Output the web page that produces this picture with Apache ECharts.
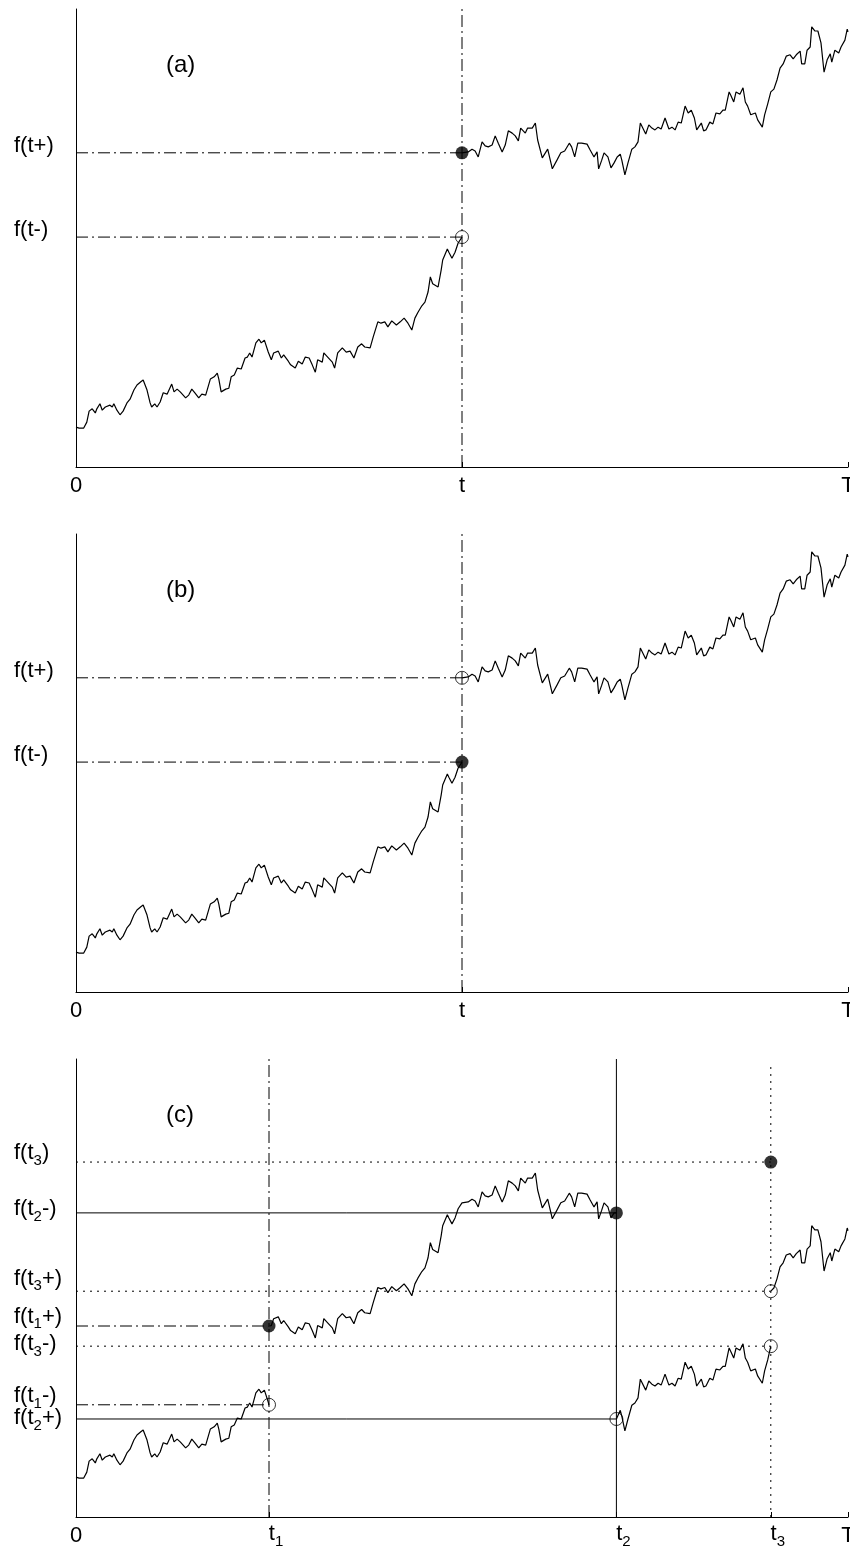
<!DOCTYPE html>
<html>
<head>
<meta charset="utf-8">
<script src="https://cdn.jsdelivr.net/npm/echarts@6/dist/echarts.min.js"></script>
<style>
  html, body { margin: 0; padding: 0; background: #fff; }
  #chart { width: 850px; height: 1547px; }
</style>
</head>
<body>
<div id="chart"></div>
<script>
// time axis runs 0..100 (T = 100), values are in % of panel height
const tJump = 50, t1 = 25, t2 = 70, t3 = 90

// path of panels (a) and (b), before and after the jump at t
const leftPath = [[0,8.7],[0.4,8.5],[0.6,8.7],[1.0,8.5],[1.4,9.8],[1.7,12.2],[2.1,12.7],[2.5,11.8],[2.7,12.7],[3.1,13.8],[3.4,12.4],[3.8,13.1],[4.0,12.7],[4.4,13.5],[4.7,13.1],[4.9,13.8],[5.3,12.4],[5.7,11.4],[6.1,12.2],[6.6,14.0],[7.0,14.8],[7.5,16.8],[7.9,17.9],[8.4,18.6],[8.7,19.0],[9.2,16.8],[9.6,14.0],[9.8,13.1],[10.2,13.8],[10.5,13.1],[10.9,14.2],[11.3,16.2],[11.8,15.9],[12.4,18.1],[12.7,16.4],[13.1,17.0],[13.5,16.4],[13.7,16.8],[14.2,15.1],[14.6,15.7],[15.0,17.0],[15.4,16.2],[15.9,15.1],[16.3,15.9],[16.8,15.7],[17.4,19.2],[17.9,19.7],[18.3,20.5],[18.5,19.2],[18.8,16.4],[19.4,17.0],[19.8,17.2],[20.1,19.7],[20.5,20.1],[20.9,21.6],[21.4,21.4],[21.9,23.8],[22.2,24.0],[22.5,24.9],[22.8,24.0],[23.3,27.1],[23.7,27.9],[24.0,27.1],[24.4,27.7],[24.9,25.1],[25.3,23.4],[25.6,24.9],[26.2,25.3],[26.6,23.8],[26.9,24.5],[27.5,23.1],[27.8,22.3],[28.4,21.6],[28.8,23.1],[29.3,22.5],[29.7,24.0],[30.2,23.8],[30.6,22.3],[31.0,20.7],[31.3,23.4],[31.9,22.9],[32.1,24.9],[32.6,24.0],[33.2,22.9],[33.5,21.6],[33.9,24.9],[34.5,26.0],[35.0,25.1],[35.5,25.3],[36.0,23.8],[36.5,26.2],[37.0,26.9],[37.4,26.2],[38.1,26.0],[38.5,28.4],[39.1,31.7],[39.5,31.4],[40.0,31.7],[40.4,30.6],[40.9,31.9],[41.5,31.0],[42.0,31.7],[42.5,32.5],[43.0,31.4],[43.5,29.9],[43.9,32.5],[44.3,33.8],[44.8,35.2],[45.2,36.0],[45.6,38.2],[45.9,41.5],[46.2,40.0],[46.9,39.3],[47.3,43.0],[47.5,45.2],[48.1,47.6],[48.3,46.9],[48.7,45.6],[49.1,46.9],[49.5,48.9],[50.0,50.2]]
const rightPath = [[50.0,68.6],[50.8,68.8],[51.3,69.4],[51.7,69.0],[52.1,67.7],[52.6,71.0],[53.0,70.1],[53.4,69.9],[53.9,70.3],[54.3,72.3],[54.7,70.7],[55.2,68.8],[55.6,70.3],[56.0,73.4],[56.5,72.9],[56.9,72.3],[57.3,71.2],[57.6,74.0],[58.2,72.9],[58.5,74.0],[59.1,74.0],[59.5,75.1],[59.8,71.4],[60.4,67.5],[60.8,68.6],[61.1,69.4],[61.7,65.1],[62.3,67.0],[62.8,68.6],[63.3,69.0],[63.9,70.7],[64.2,69.9],[64.6,67.7],[65.0,70.7],[65.5,70.7],[66.2,70.5],[66.6,69.2],[67.1,67.7],[67.5,68.8],[67.7,65.1],[68.1,67.0],[68.4,68.6],[68.9,67.7],[69.3,65.3],[69.7,66.4],[70.1,67.7],[70.5,68.3],[70.7,67.0],[71.1,63.8],[71.5,66.4],[72.0,69.4],[72.4,69.9],[72.8,71.0],[73.1,75.1],[73.3,75.3],[73.8,72.7],[74.2,74.7],[74.6,74.0],[75.0,73.6],[75.4,74.2],[75.8,73.8],[76.3,76.2],[76.8,73.8],[77.2,74.2],[77.6,73.6],[78.0,75.3],[78.4,75.1],[78.9,78.8],[79.3,77.3],[79.7,77.9],[80.1,76.2],[80.4,73.6],[81.0,75.1],[81.3,73.4],[81.6,73.6],[82.1,75.3],[82.5,74.9],[82.9,77.3],[83.4,77.1],[83.8,77.9],[84.1,77.9],[84.6,81.9],[84.8,81.2],[85.2,79.7],[85.5,81.9],[86.0,81.4],[86.4,82.8],[86.7,79.7],[87.0,78.8],[87.4,76.9],[88.0,77.3],[88.3,75.8],[88.9,74.2],[89.2,76.9],[89.6,79.3],[90.0,81.9],[90.4,82.5],[90.8,84.5],[91.2,87.1],[91.6,88.0],[92.0,89.7],[92.5,90.0],[92.9,89.1],[93.3,90.0],[93.8,90.8],[94.0,88.0],[94.4,88.0],[94.7,91.0],[95.1,91.7],[95.3,96.1],[95.7,95.2],[96.1,95.2],[96.5,92.6],[96.9,86.2],[97.3,88.9],[97.7,90.2],[97.9,88.4],[98.3,91.0],[98.8,90.4],[99.1,91.7],[99.6,93.2],[99.9,95.6],[100,95.0]]
const fTplus = 68.6, fTminus = 50.2

// panel (c): jumps at t1, t2, t3
const fT1minus = 24.5, fT1plus = 41.7
const fT2minus = 66.4, fT2plus = 21.4
const fT3 = 77.5, fT3plus = 49.3, fT3minus = 37.3
const cPath2 = [[25,41.7],[25.3,41.8],[25.6,43.3],[26.2,43.7],[26.6,42.2],[26.9,42.9],[27.5,41.5],[27.8,40.7],[28.4,40.0],[28.8,41.5],[29.3,40.9],[29.7,42.4],[30.2,42.2],[30.6,40.7],[31.0,39.1],[31.3,41.8],[31.9,41.3],[32.1,43.3],[32.6,42.4],[33.2,41.3],[33.5,40.0],[33.9,43.3],[34.5,44.4],[35.0,43.5],[35.5,43.7],[36.0,42.2],[36.5,44.6],[37.0,45.3],[37.4,44.6],[38.1,44.4],[38.5,46.8],[39.1,50.1],[39.5,49.8],[40.0,50.1],[40.4,49.0],[40.9,50.3],[41.5,49.4],[42.0,50.1],[42.5,50.9],[43.0,49.8],[43.5,48.3],[43.9,50.9],[44.3,52.2],[44.8,53.6],[45.2,54.4],[45.6,56.6],[45.9,59.9],[46.2,58.4],[46.9,57.7],[47.3,61.4],[47.5,63.6],[48.1,66.0],[48.3,65.3],[48.7,64.0],[49.1,65.3],[49.5,67.3],[50.0,68.6],[50.8,68.8],[51.3,69.4],[51.7,69.0],[52.1,67.7],[52.6,71.0],[53.0,70.1],[53.4,69.9],[53.9,70.3],[54.3,72.3],[54.7,70.7],[55.2,68.8],[55.6,70.3],[56.0,73.4],[56.5,72.9],[56.9,72.3],[57.3,71.2],[57.6,74.0],[58.2,72.9],[58.5,74.0],[59.1,74.0],[59.5,75.1],[59.8,71.4],[60.4,67.5],[60.8,68.6],[61.1,69.4],[61.7,65.1],[62.3,67.0],[62.8,68.6],[63.3,69.0],[63.9,70.7],[64.2,69.9],[64.6,67.7],[65.0,70.7],[65.5,70.7],[66.2,70.5],[66.6,69.2],[67.1,67.7],[67.5,68.8],[67.7,65.1],[68.1,67.0],[68.4,68.6],[68.9,67.7],[69.3,65.3],[69.7,66.4],[70,66.4]]
const cPath3 = [[70,21.4],[70.5,23.3],[70.7,22.0],[71.1,18.8],[71.5,21.4],[72.0,24.4],[72.4,24.9],[72.8,26.0],[73.1,30.1],[73.3,30.3],[73.8,27.7],[74.2,29.7],[74.6,29.0],[75.0,28.6],[75.4,29.2],[75.8,28.8],[76.3,31.2],[76.8,28.8],[77.2,29.2],[77.6,28.6],[78.0,30.3],[78.4,30.1],[78.9,33.8],[79.3,32.3],[79.7,32.9],[80.1,31.2],[80.4,28.6],[81.0,30.1],[81.3,28.4],[81.6,28.6],[82.1,30.3],[82.5,29.9],[82.9,32.3],[83.4,32.1],[83.8,32.9],[84.1,32.9],[84.6,36.9],[84.8,36.2],[85.2,34.7],[85.5,36.9],[86.0,36.4],[86.4,37.8],[86.7,34.7],[87.0,33.8],[87.4,31.9],[88.0,32.3],[88.3,30.8],[88.9,29.2],[89.2,31.9],[89.6,34.3],[90,37.3]]
const cPath4 = [[90,49.3],[90.4,50.0],[90.8,52.0],[91.2,54.6],[91.6,55.5],[92.0,57.2],[92.5,57.5],[92.9,56.6],[93.3,57.5],[93.8,58.3],[94.0,55.5],[94.4,55.5],[94.7,58.5],[95.1,59.2],[95.3,63.6],[95.7,62.7],[96.1,62.7],[96.5,60.1],[96.9,53.7],[97.3,56.4],[97.7,57.7],[97.9,55.9],[98.3,58.5],[98.8,57.9],[99.1,59.2],[99.6,60.7],[99.9,63.1],[100,62.5]]
const cPath1 = leftPath.filter(p => p[0] < t1).concat([[t1, fT1minus]])

// tick labels
const xTicksAB = [0, tJump, 100]
const xLabelsAB = ['0', 't', 'T']
const xTicksC = [0, t1, t2, t3, 100]
const xLabelsC = ['0', '{tm|t}{s|1}', '{tm|t}{s|2}', '{tm|t}{s|3}', 'T']
const yLabelPosAB = [70.0, 51.7]
const yLabelsAB = ['f(t+)', 'f(t-)']
// the labels of (c) sit close together, so they are split over two axes
const yLabelPosC = [79.5, 67.2, 52.0, 43.7, 37.8, 21.6]
const yLabelsC = ['{m|f(t}{s|3}{m|)}', '{m|f(t}{s|2}{m|-)}', '{m|f(t}{s|3}{m|+)}', '{m|f(t}{s|1}{m|+)}', '{m|f(t}{s|3}{m|-)}', '{m|f(t}{s|2}{m|+)}']
const yLabelPosC2 = [26.4]
const yLabelsC2 = ['{m|f(t}{s|1}{m|-)}']

const FONT = '"Liberation Sans", Arial, sans-serif'
const FS = 22
const DASHDOT = [12, 4, 2, 4]
const DOTTED = [2, 5]
const RICH = {
  m: { fontSize: FS, fontFamily: FONT, color: '#000', lineHeight: 18 },
  tm: { fontSize: FS, fontFamily: FONT, color: '#000', lineHeight: 18, padding: [0, 0, 0, 14] },
  s: { fontSize: 15, fontFamily: FONT, color: '#000', verticalAlign: 'top', padding: [9, 0, -9, 0] }
}
const panelTops = [9, 534, 1059]

function nearest(list, v) {
  var best = 0
  list.forEach((x, i) => { if (Math.abs(x - v) < Math.abs(list[best] - v)) best = i })
  return best
}

function xAxisFor(i, ticks, labels) {
  return {
    type: 'value', gridIndex: i, min: 0, max: 100,
    axisLine: { show: true, onZero: false, lineStyle: { color: '#000', width: 1 } },
    splitLine: { show: false },
    axisTick: { show: true, inside: true, length: 5, customValues: ticks, lineStyle: { color: '#000' } },
    axisLabel: {
      customValues: ticks, showMinLabel: true, showMaxLabel: true, hideOverlap: false, margin: 8,
      color: '#000', fontFamily: FONT, fontSize: FS, rich: RICH,
      formatter: v => labels[nearest(ticks, v)]
    }
  }
}

function yAxisFor(i, pos, labels, showLine) {
  return {
    type: 'value', gridIndex: i, min: 0, max: 100, position: 'left',
    axisLine: { show: showLine, onZero: false, lineStyle: { color: '#000', width: 1 } },
    splitLine: { show: false },
    axisTick: { show: false },
    axisLabel: {
      customValues: pos, showMinLabel: true, showMaxLabel: true, hideOverlap: false, align: 'left', margin: 62,
      color: '#000', fontFamily: FONT, fontSize: FS, rich: RICH,
      formatter: v => labels[nearest(pos, v)]
    }
  }
}

function path(i, data) {
  return {
    type: 'line', xAxisIndex: i, yAxisIndex: i, data: data, showSymbol: false, silent: true, z: 3,
    lineStyle: { color: '#000', width: 1.2 }
  }
}

function guide(i, from, to, dash) {
  return {
    type: 'line', xAxisIndex: i, yAxisIndex: i, data: [from, to], showSymbol: false, silent: true, z: 2,
    lineStyle: { color: '#000', width: 1, type: dash }
  }
}

function dots(i, data, filled) {
  return {
    type: 'scatter', xAxisIndex: i, yAxisIndex: i, data: data, symbol: 'circle', symbolSize: 13, silent: true, z: 5,
    itemStyle: filled
      ? { color: '#000' }
      : { color: 'rgba(0,0,0,0)', borderColor: '#000', borderWidth: 1 }
  }
}

const chart = echarts.init(document.getElementById('chart'), null, { renderer: 'canvas' })
chart.setOption({
  animation: false,
  backgroundColor: '#fff',
  title: ['(a)', '(b)', '(c)'].map((txt, i) => ({
    text: txt, left: 166, top: panelTops[i] + 44, padding: 0,
    textStyle: { fontSize: 24, fontWeight: 'normal', fontFamily: FONT, color: '#000' }
  })),
  grid: panelTops.map(top => ({ left: 76, right: 2, top: top, height: 458, containLabel: false, outerBoundsMode: 'none' })),
  xAxis: [xAxisFor(0, xTicksAB, xLabelsAB), xAxisFor(1, xTicksAB, xLabelsAB), xAxisFor(2, xTicksC, xLabelsC)],
  yAxis: [
    yAxisFor(0, yLabelPosAB, yLabelsAB, true),
    yAxisFor(1, yLabelPosAB, yLabelsAB, true),
    yAxisFor(2, yLabelPosC, yLabelsC, true),
    yAxisFor(2, yLabelPosC2, yLabelsC2, false)
  ],
  series: [
    // (a)
    guide(0, [tJump, 0], [tJump, 100], DASHDOT),
    guide(0, [0, fTplus], [tJump, fTplus], DASHDOT),
    guide(0, [0, fTminus], [tJump, fTminus], DASHDOT),
    path(0, leftPath),
    path(0, rightPath),
    dots(0, [[tJump, fTplus]], true),
    dots(0, [[tJump, fTminus]], false),
    // (b)
    guide(1, [tJump, 0], [tJump, 100], DASHDOT),
    guide(1, [0, fTplus], [tJump, fTplus], DASHDOT),
    guide(1, [0, fTminus], [tJump, fTminus], DASHDOT),
    path(1, leftPath),
    path(1, rightPath),
    dots(1, [[tJump, fTminus]], true),
    dots(1, [[tJump, fTplus]], false),
    // (c)
    guide(2, [t1, 0], [t1, 100], DASHDOT),
    guide(2, [0, fT1plus], [t1, fT1plus], DASHDOT),
    guide(2, [0, fT1minus], [t1, fT1minus], DASHDOT),
    guide(2, [t2, 0], [t2, 100], 'solid'),
    guide(2, [0, fT2minus], [t2, fT2minus], 'solid'),
    guide(2, [0, fT2plus], [t2, fT2plus], 'solid'),
    guide(2, [t3, 0], [t3, 99], DOTTED),
    guide(2, [0, fT3], [t3, fT3], DOTTED),
    guide(2, [0, fT3plus], [t3, fT3plus], DOTTED),
    guide(2, [0, fT3minus], [t3, fT3minus], DOTTED),
    path(2, cPath1),
    path(2, cPath2),
    path(2, cPath3),
    path(2, cPath4),
    dots(2, [[t1, fT1plus], [t2, fT2minus], [t3, fT3]], true),
    dots(2, [[t1, fT1minus], [t2, fT2plus], [t3, fT3plus], [t3, fT3minus]], false)
  ]
})
</script>
</body>
</html>
